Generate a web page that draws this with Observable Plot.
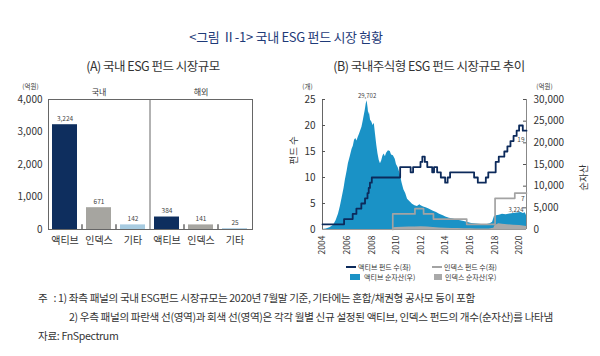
<!DOCTYPE html>
<html><head><meta charset="utf-8">
<script src="https://cdn.jsdelivr.net/npm/d3@7"></script>
<script src="https://cdn.jsdelivr.net/npm/@observablehq/plot@0.6"></script>
<style>
body{margin:0;background:#fff;font-family:"Noto Sans CJK KR","Noto Sans",sans-serif;}
#root{position:relative;width:600px;height:356px;overflow:hidden;background:#fff;}
.abs{position:absolute;white-space:nowrap;line-height:1;}
#chartA{position:absolute;left:0;top:78px;}
#chartB{position:absolute;left:285px;top:78px;}
.lg{position:absolute;font-size:7px;color:#333;line-height:10px;white-space:nowrap;}
.note{position:absolute;font-size:10.6px;color:#333;white-space:nowrap;letter-spacing:-0.35px;line-height:12px;}
</style></head><body><div id="root">
<div class="abs" style="left:0;width:572px;top:30px;text-align:center;font-size:13px;color:#1e3a78;letter-spacing:-0.3px;">&lt;그림 Ⅱ-1&gt; 국내 ESG 펀드 시장 현황</div>
<div class="abs" style="left:60px;width:186px;top:60px;text-align:center;font-size:12.5px;color:#333;letter-spacing:-0.5px;">(A) 국내 ESG 펀드 시장규모</div>
<div class="abs" style="left:322px;width:214px;top:60px;text-align:center;font-size:12.5px;color:#333;letter-spacing:-0.5px;">(B) 국내주식형 ESG 펀드 시장규모 추이</div>
<div id="chartA"></div>
<div id="chartB"></div>
<div id="legend"></div>
<div class="note" style="left:38px;top:292px;">주&nbsp;&nbsp;&nbsp;: 1) 좌측 패널의 국내 ESG펀드 시장규모는 2020년 7월말 기준, 기타에는 혼합/채권형 공사모 등이 포함</div>
<div class="note" style="left:69px;top:311px;">2) 우측 패널의 파란색 선(영역)과 회색 선(영역)은 각각 월별 신규 설정된 액티브, 인덱스 펀드의 개수(순자산)를 나타냄</div>
<div class="note" style="left:38px;top:330px;">자료: FnSpectrum</div>
</div>
<script>
// ---------- Panel A data ----------
const catsA = ["액티브","인덱스","기타","액티브","인덱스","기타"];
const groupsA = ["국내","국내","국내","해외","해외","해외"];
const valuesA = [3224, 671, 142, 384, 141, 25];
const yTicksA = [0, 1000, 2000, 3000, 4000];
const groupNamesA = ["국내","해외"];

// ---------- Panel B data ----------
const activeCountYear  = [2004.0,2005.75,2006.45,2006.75,2007.15,2007.45,2007.65,2007.75,2007.85,2008.0,2010.3,2011.15,2011.35,2011.95,2012.1,2012.3,2012.5,2012.9,2013.05,2013.3,2013.6,2013.95,2014.15,2014.35,2016.3,2016.6,2017.25,2017.45,2018.05,2018.3,2018.75,2019.0,2019.25,2019.5,2019.75,2019.95,2020.25,2020.55];
const activeCountValue = [1,2,3,4,5,6,7,8,9,10,12,11,12,13,14,13,12,11,12,11,10,9,10,11,10,9,10,11,13,14,15,16,17,18,19,20,19,19];
const indexCountYear  = [2009.7,2009.7,2011.5,2012.2,2013.0,2015.7,2018.0,2019.6,2020.55];
const indexCountValue = [0,3,4,3,2,1,6,7,7];
const activeAssetYear  = [2004.0,2004.3,2004.6,2004.9,2005.1,2005.3,2005.45,2005.6,2005.75,2005.85,2006.0,2006.1,2006.25,2006.4,2006.5,2006.6,2006.7,2006.8,2006.9,2007.0,2007.1,2007.2,2007.3,2007.4,2007.47,2007.55,2007.62,2007.7,2007.75,2007.8,2007.9,2008.0,2008.1,2008.2,2008.3,2008.4,2008.5,2008.6,2008.7,2008.8,2008.9,2009.0,2009.1,2009.2,2009.35,2009.5,2009.6,2009.75,2009.9,2010.0,2010.15,2010.3,2010.45,2010.6,2010.75,2010.9,2011.1,2011.3,2011.5,2011.7,2011.9,2012.0,2012.2,2012.4,2012.6,2012.8,2013.0,2013.25,2013.5,2013.8,2014.0,2014.3,2014.6,2014.9,2015.2,2015.5,2015.8,2016.1,2016.5,2016.9,2017.3,2017.6,2017.8,2017.95,2018.1,2018.35,2018.6,2018.9,2019.2,2019.5,2019.8,2020.1,2020.3,2020.45,2020.55];
const activeAssetValue = [0,100,400,1000,2000,3600,5300,7400,9500,11300,13500,15200,16800,18500,19200,20600,21000,20400,21300,22000,22800,23600,25000,26500,27500,29000,29702,28000,26500,27200,25200,24800,24000,24500,22000,19500,17500,16000,15200,15800,16900,17400,16800,17600,18200,18000,17200,17000,16200,15000,14200,12800,10800,9200,8300,7000,6400,5800,5500,5300,5700,5500,5200,5000,4800,4500,4200,3900,3500,3200,2900,2600,2400,2200,2000,1850,1600,1400,1250,1150,1100,1300,1700,3000,3200,3300,3500,3400,3600,3700,3800,3900,3700,3850,3224];
const indexAssetYear  = [2009.7,2009.75,2010.0,2010.5,2011.0,2011.5,2012.0,2012.5,2013.0,2013.5,2014.0,2014.5,2015.0,2015.5,2016.0,2016.5,2017.0,2017.5,2017.9,2018.0,2018.3,2018.6,2019.0,2019.5,2020.0,2020.3,2020.55];
const indexAssetValue = [0,400,450,500,550,600,650,550,450,350,300,250,220,200,150,120,100,120,300,900,1300,1200,1100,1000,900,800,671];
const leftTicksB  = [0,5,10,15,20,25];
const rightTicksB = [0,5000,10000,15000,20000,25000,30000];
const xTicksB = [2004,2006,2008,2010,2012,2014,2016,2018,2020];
const xDomainB = [2004, 2020.55];
const ratioB = 30000 / 25;

const FONT = '"Noto Sans CJK KR","Noto Sans",sans-serif';
const fmt = d3.format(",");

// ---------- Panel A ----------
const keysA = catsA.map((c,i) => groupsA[i] + "-" + c);
const dataA = keysA.map((k,i) => ({key:k, cat:catsA[i], value:valuesA[i]}));
const innerWA = 270 - 48 - 18;
const stepA = innerWA / keysA.length;
const chartA = Plot.plot({
  width: 270, height: 180, marginLeft: 48, marginRight: 18, marginTop: 21, marginBottom: 29,
  style: {fontFamily: FONT, fontSize: "10px", color: "#333", background: "transparent"},
  x: {domain: keysA, paddingInner: 0.26, paddingOuter: 0.13, label: null},
  y: {domain: [0, 4000], label: null},
  color: {domain: ["액티브","인덱스","기타"], range: ["#0e2e5e","#a6a5a0","#a7cbe0"]},
  marks: [
    Plot.barY(dataA, {x: "key", y: "value", fill: "cat"}),
    Plot.text(dataA, {x: "key", y: "value", text: d => fmt(d.value), dy: -6, fontSize: 6.5, fill: "#444"}),
    Plot.frame({stroke: "#666"}),
    Plot.ruleX([keysA[3]], {dx: -stepA/2, stroke: "#666"}),
    Plot.ruleX([keysA[1], keysA[2], keysA[4], keysA[5]], {dx: -stepA/2, y1: 0, y2: 150, stroke: "#444", strokeWidth: 1.2}),
    Plot.axisX(keysA, {tickSize: 0, tickPadding: 7, tickFormat: k => k.split("-")[1], fontSize: 10, label: null, style:{letterSpacing:"-1.2px"}}),
    Plot.axisY(yTicksA, {tickSize: 0, tickPadding: 6, tickFormat: d => fmt(d), fontSize: 10, label: null}),
    Plot.text(groupNamesA, {x: g => g + "-인덱스", frameAnchor: "top", dy: -10, text: d => d, fontSize: 8, fill: "#333"}),
    Plot.text(["(억원)"], {frameAnchor: "top-left", dx: -18, dy: -15, textAnchor: "middle", fontSize: 6.5, fill: "#333"})
  ]
});
document.getElementById("chartA").append(chartA);

// ---------- Panel B ----------
const rows = (xs, vs) => xs.map((x,i) => ({x, v: vs[i]}));
const activeCount = rows(activeCountYear, activeCountValue);
const indexCount = rows(indexCountYear, indexCountValue);
const activeAsset = rows(activeAssetYear, activeAssetValue);
const indexAsset = rows(indexAssetYear, indexAssetValue);
const innerWB = 315 - 37 - 74;
const peak = activeAsset.reduce((a,b) => b.v > a.v ? b : a);
const lastA = activeCount[activeCount.length-1];
const lastI = indexCount[indexCount.length-1];
const lastAA = activeAsset[activeAsset.length-1];

const chartB = Plot.plot({
  width: 315, height: 200, marginLeft: 37, marginRight: 74, marginTop: 21, marginBottom: 49,
  style: {fontFamily: FONT, fontSize: "10px", color: "#333", background: "transparent"},
  x: {domain: xDomainB, label: null},
  y: {domain: [0, 25], label: null},
  marks: [
    Plot.areaY(activeAsset, {x: "x", y: d => d.v / ratioB, fill: "#1a92c6"}),
    Plot.areaY(indexAsset, {x: "x", y: d => d.v / ratioB, fill: "#a9a9a9"}),
    Plot.ruleY([0], {stroke: "#999"}),
    Plot.ruleX([xDomainB[0]], {stroke: "#666"}),
    Plot.ruleX([xDomainB[1]], {stroke: "#888"}),
    Plot.line(indexCount, {x: "x", y: "v", curve: "step-after", stroke: "#a3a3a3", strokeWidth: 1.7}),
    Plot.line(activeCount, {x: "x", y: "v", curve: "step-after", stroke: "#0c2a5b", strokeWidth: 1.8}),
    Plot.ruleY(leftTicksB.filter(v => v > 0), {insetRight: innerWB - 3, stroke: "#555"}),
    Plot.ruleY(rightTicksB.filter(v => v > 0).map(v => v / ratioB), {insetLeft: innerWB - 3, stroke: "#555"}),
    Plot.axisX(xTicksB, {tickRotate: -90, tickSize: 0, tickPadding: 6, tickFormat: d => String(d), fontSize: 8.5, label: null}),
    Plot.axisY(leftTicksB, {anchor: "left", tickSize: 0, tickPadding: 7, fontSize: 10, label: null}),
    Plot.axisY(rightTicksB.map(v => v / ratioB), {anchor: "right", tickSize: 0, tickPadding: 7, fontSize: 10, label: null,
      tickFormat: d => fmt(Math.round(d * ratioB))}),
    Plot.text([peak], {x: "x", y: d => d.v / ratioB, text: d => fmt(d.v), dy: -5, fontSize: 6, fill: "#444"}),
    Plot.text([lastA], {x: "x", y: "v", text: d => String(d.v), dy: 9, dx: -2, textAnchor: "end", fontSize: 6.5, fill: "#444"}),
    Plot.text([lastI], {x: "x", y: "v", text: d => String(d.v), dy: 6, dx: -2, textAnchor: "end", fontSize: 6.5, fill: "#444"}),
    Plot.text([lastAA], {x: "x", y: d => d.v / ratioB, text: d => fmt(d.v), dy: -5, dx: -3, textAnchor: "end", fontSize: 6, fill: "#444"}),
    Plot.text(["(개)"], {frameAnchor: "top-left", dx: -15, dy: -15, textAnchor: "middle", fontSize: 6.5, fill: "#333"}),
    Plot.text(["(억원)"], {frameAnchor: "top-right", dx: 18, dy: -15, textAnchor: "middle", fontSize: 6.5, fill: "#333"}),
    Plot.text(["펀드 수"], {frameAnchor: "left", dx: -29, rotate: -90, fontSize: 9.5, fill: "#333"}),
    Plot.text(["순자산"], {frameAnchor: "right", dx: 57, rotate: -90, fontSize: 9.5, fill: "#333"})
  ]
});
document.getElementById("chartB").append(chartB);

// ---------- Legend ----------
const legendItems = [
  {label: "액티브 펀드 수(좌)", kind: "line", color: "#0c2a5b", x: 346, y: 267},
  {label: "인덱스 펀드 수(좌)", kind: "line", color: "#a3a3a3", x: 432, y: 267},
  {label: "액티브 순자산(우)", kind: "box", color: "#1a92c6", x: 350, y: 277},
  {label: "인덱스 순자산(우)", kind: "box", color: "#a9a9a9", x: 434, y: 277}
];
const lg = document.getElementById("legend");
legendItems.forEach(it => {
  const sw = document.createElement("div");
  sw.style.position = "absolute";
  sw.style.background = it.color;
  if (it.kind === "line") {
    sw.style.left = it.x + "px"; sw.style.top = (it.y - 1) + "px"; sw.style.width = "10px"; sw.style.height = "2px";
  } else {
    sw.style.left = it.x + "px"; sw.style.top = (it.y - 3) + "px"; sw.style.width = (it.x < 400 ? 10 : 8) + "px"; sw.style.height = "6px";
  }
  lg.append(sw);
  const t = document.createElement("div");
  t.className = "lg";
  t.textContent = it.label;
  t.style.left = (it.kind === "line" ? it.x + 12 : it.x + (it.x < 400 ? 14 : 11)) + "px";
  t.style.top = (it.y - 5) + "px";
  lg.append(t);
});
</script>
</body></html>
